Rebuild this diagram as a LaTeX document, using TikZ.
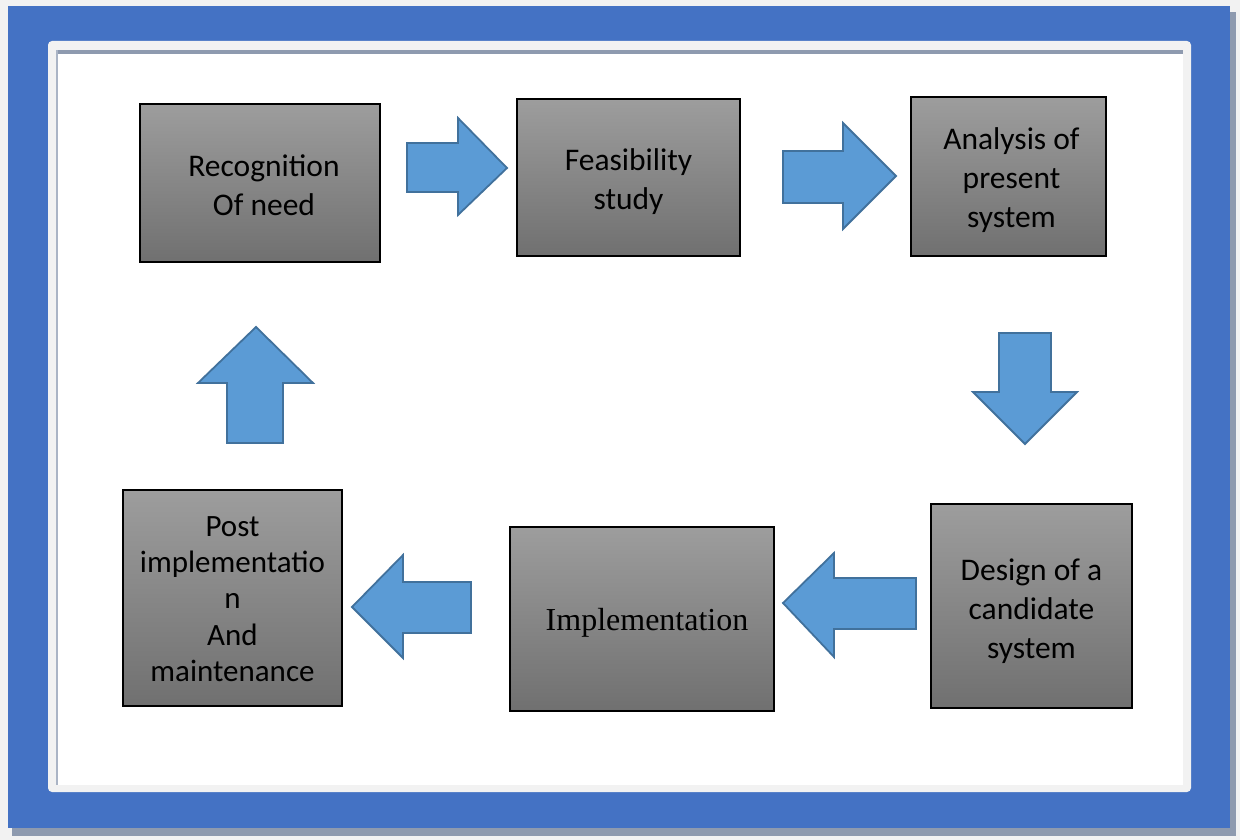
\documentclass[tikz,border=0pt]{standalone}
\usepackage{fontspec}
\setmainfont{Carlito}
\newfontfamily\timesf{Liberation Serif}
\definecolor{bgray}{RGB}{242,242,242}
\definecolor{frameblue}{RGB}{68,114,196}
\definecolor{shadowc}{RGB}{142,154,175}
\definecolor{leftline}{RGB}{170,180,197}
\definecolor{arrfill}{RGB}{91,155,213}
\definecolor{arrdraw}{RGB}{65,113,156}
\definecolor{boxtop}{RGB}{157,157,157}
\definecolor{boxbot}{RGB}{112,112,112}
\tikzset{
  stagebox/.style={draw=black, line width=1.2pt, top color=boxtop, bottom color=boxbot, inner sep=0pt},
  stagetext/.style={align=center, inner sep=0pt, font=\fontsize{31.5}{39}\selectfont},
  blockarrow/.style={fill=arrfill, draw=arrdraw, line width=1.8pt, line join=miter}
}
\begin{document}
\begin{tikzpicture}[x=1pt,y=-1pt]
\useasboundingbox (0,0) rectangle (1240,840);
\fill[bgray] (0,0) rectangle (1240,840);
% frame shadow and blue frame
\fill[shadowc] (12,12) rectangle (1236,836);
\fill[frameblue] (8,6) rectangle (1230,828);
% inner panel
\fill[bgray, rounded corners=4pt] (48,41) rectangle (1191,792);
\fill[white] (56,50) rectangle (1183,785);
\fill[shadowc] (56,50) rectangle (1183,54);
\fill[leftline] (56,50) rectangle (58,785);

% stage boxes
\node[stagebox, minimum width=240, minimum height=158] (rec) at (260,183) {};
\node[stagebox, minimum width=223, minimum height=157] (fea) at (628.5,177.5) {};
\node[stagebox, minimum width=195, minimum height=159] (ana) at (1008.5,176.5) {};
\node[stagebox, minimum width=201, minimum height=204] (des) at (1031.5,606) {};
\node[stagebox, minimum width=264, minimum height=184] (imp) at (642,619) {};
\node[stagebox, minimum width=219, minimum height=216] (pst) at (232.5,598) {};

% stage texts
\node[stagetext] (recT) at ([xshift=4,yshift=-2.5]rec.center) {Recognition\\Of need};
\node[stagetext] (feaT) at ([yshift=-4]fea.center) {Feasibility\\study};
\node[stagetext] (anaT) at ([xshift=3,yshift=-4]ana.center) {Analysis of\\present\\system};
\node[stagetext] (desT) at ([yshift=-5]des.center) {Design of a\\candidate\\system};
\node[stagetext, font=\timesf\fontsize{32}{39}\selectfont] (impT) at ([xshift=5,yshift=-4]imp.center) {Implementation};
\node[stagetext, font=\fontsize{31}{36.3}\selectfont] (pstT) at ([yshift=-1]pst.center) {Post\\implementatio\\n\\And\\maintenance};

% block arrows
\draw[blockarrow] (407,143) -- (458,143) -- (458,118) -- (507,168) -- (458,215) -- (458,192) -- (407,192) -- cycle;
\draw[blockarrow] (783,151) -- (843,151) -- (843,123) -- (896,176) -- (843,229) -- (843,203) -- (783,203) -- cycle;
\draw[blockarrow] (999,333) -- (1051,333) -- (1051,392) -- (1077,392) -- (1025,444) -- (973,392) -- (999,392) -- cycle;
\draw[blockarrow] (916,578) -- (834,578) -- (834,553) -- (783,603) -- (834,657) -- (834,629) -- (916,629) -- cycle;
\draw[blockarrow] (471,582) -- (403,582) -- (403,555) -- (352,607) -- (403,658) -- (403,633) -- (471,633) -- cycle;
\draw[blockarrow] (227,443) -- (227,383) -- (198,383) -- (256,327) -- (313,383) -- (283,383) -- (283,443) -- cycle;
\end{tikzpicture}
\end{document}
